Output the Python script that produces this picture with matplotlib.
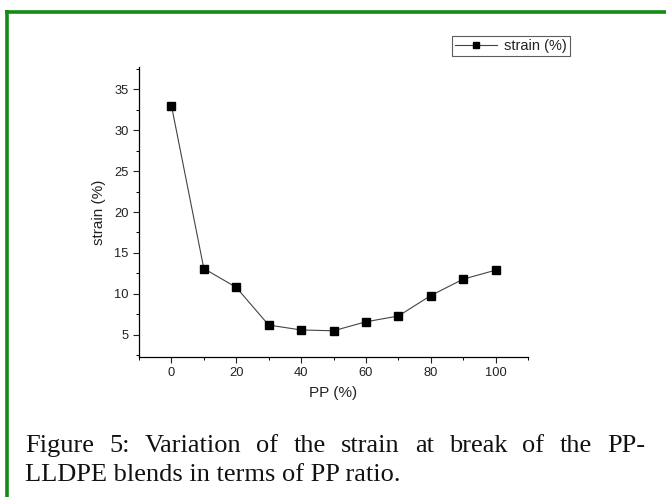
import matplotlib
matplotlib.use("Agg")
import matplotlib.pyplot as plt
from matplotlib.lines import Line2D
from matplotlib.ticker import MultipleLocator

pp_percent = [0, 10, 20, 30, 40, 50, 60, 70, 80, 90, 100]
strain = [33.0, 13.1, 10.8, 6.2, 5.6, 5.5, 6.6, 7.3, 9.8, 11.8, 12.9]
x_label = "PP (%)"
y_label = "strain (%)"
series_label = "strain (%)"
caption_line1 = "Figure 5: Variation of the strain at break of the PP-"
caption_line2 = "LLDPE blends in terms of PP ratio."

W, H = 666, 497
fig = plt.figure(figsize=(W / 100, H / 100), dpi=100)
fig.patch.set_facecolor("white")

# axes placement (pixels)
L, R, T, B = 139, 528, 67, 357
ax = fig.add_axes([L / W, 1 - B / H, (R - L) / W, (B - T) / H])
ax.plot(pp_percent, strain, color="#444444", lw=0.8, marker="s", ms=5.5,
        mfc="black", mec="black", label=series_label)
ax.set_xlim(-10, 110)
ax.set_ylim(2.3, 37.7)
ax.xaxis.set_major_locator(MultipleLocator(20))
ax.xaxis.set_minor_locator(MultipleLocator(10))
ax.yaxis.set_major_locator(MultipleLocator(5))
ax.yaxis.set_minor_locator(MultipleLocator(2.5))
for s in ["top", "right"]:
    ax.spines[s].set_visible(False)
for s in ["left", "bottom"]:
    ax.spines[s].set_linewidth(0.9)
ax.tick_params(which="major", direction="out", length=4.3, width=0.8,
               labelsize=9.3, pad=3, colors="#222222")
ax.tick_params(which="minor", direction="out", length=2.5, width=0.7)
for lab in ax.get_xticklabels() + ax.get_yticklabels():
    lab.set_family("Liberation Sans")
ax.set_xlabel(x_label, family="Liberation Sans", fontsize=11, labelpad=5, color="#222222")
ax.set_ylabel(y_label, family="Liberation Sans", fontsize=11, labelpad=6, color="#222222")

# legend
h = Line2D([], [], color="#444444", lw=0.8, marker="s", ms=5, mfc="black", mec="black")
leg = fig.legend([h], [series_label], loc="upper left",
                 bbox_to_anchor=(452 / W, 1 - 36 / H),
                 prop={"family": "Liberation Sans", "size": 10.5},
                 frameon=True, fancybox=False, shadow=False,
                 handlelength=2.9, handletextpad=0.5, borderpad=0.2,
                 borderaxespad=0)
leg.get_frame().set_edgecolor("#333333")
leg.get_frame().set_linewidth(0.8)
for t in leg.get_texts():
    t.set_color("#222222")

# green border
green = "#158a15"
fig.add_artist(Line2D([5 / W, 1.0], [1 - 11.5 / H, 1 - 11.5 / H], color=green,
                      lw=2.6, transform=fig.transFigure, solid_capstyle="butt"))
fig.add_artist(Line2D([6.5 / W, 6.5 / W], [1 - 10.2 / H, 0.0], color=green,
                      lw=2.6, transform=fig.transFigure, solid_capstyle="butt"))

# caption, line 1 justified
cap_font = {"family": "Liberation Serif", "size": 19}
x0, x1 = 25, 645
y1 = 1 - 452 / H
y2 = 1 - 481 / H
words = caption_line1.split(" ")
fig.canvas.draw()
renderer = fig.canvas.get_renderer()
texts = [fig.text(0, y1, w, ha="left", va="baseline", color="#111111", **cap_font) for w in words]
widths = [t.get_window_extent(renderer).width for t in texts]
gap = ((x1 - x0) - sum(widths)) / (len(words) - 1)
pos = x0
for t, w in zip(texts, widths):
    t.set_x(pos / W)
    pos += w + gap
fig.text(x0 / W, y2, caption_line2, ha="left", va="baseline", color="#111111", **cap_font)

fig.savefig("out.png", dpi=100)
